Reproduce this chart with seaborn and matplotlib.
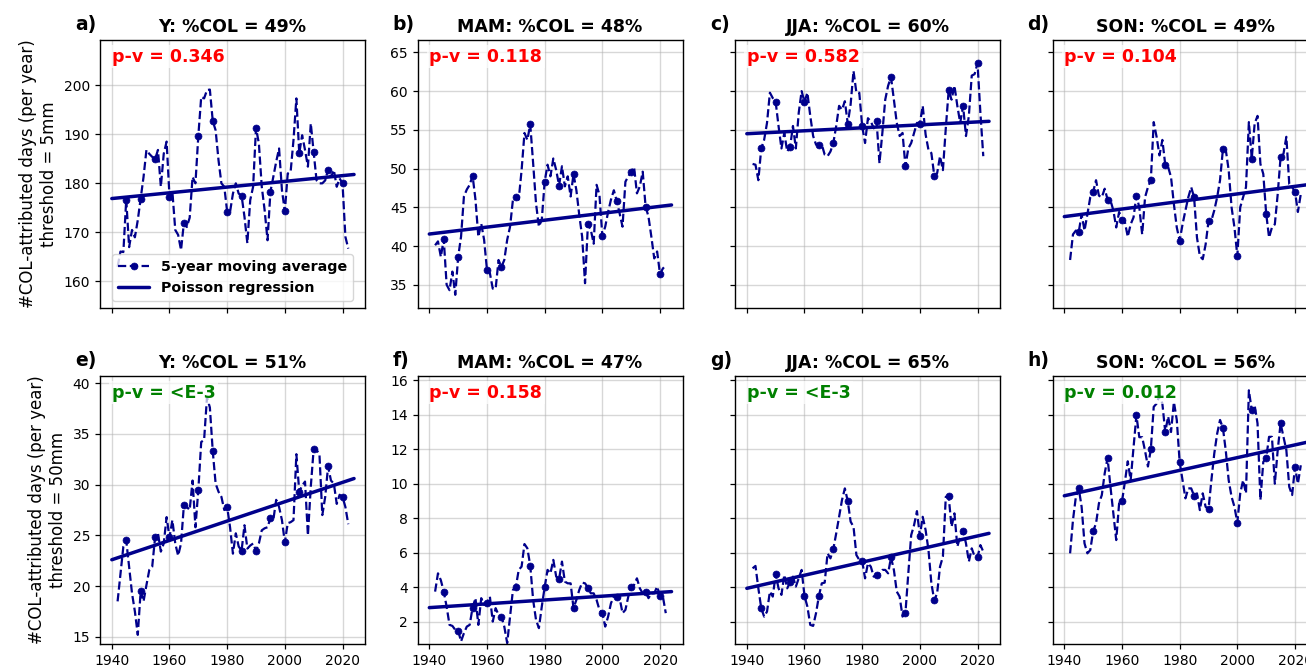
import numpy as np
import pandas as pd
import matplotlib
matplotlib.use("Agg")
import matplotlib.pyplot as plt
import seaborn as sns

# ---------------- data ----------------
years = list(range(1942, 2023))
reg_years = [1940, 2024]

titles = ["Y: %COL = 49%", "MAM: %COL = 48%", "JJA: %COL = 60%", "SON: %COL = 49%",
          "Y: %COL = 51%", "MAM: %COL = 47%", "JJA: %COL = 65%", "SON: %COL = 56%"]
letters = ["a)", "b)", "c)", "d)", "e)", "f)", "g)", "h)"]
pvalues = ["0.346", "0.118", "0.582", "0.104", "<E-3", "0.158", "<E-3", "0.012"]
significant = [False, False, False, False, True, False, True, True]
ylabels = ["#COL-attributed days (per year)\nthreshold = 5mm",
           "#COL-attributed days (per year)\nthreshold = 50mm"]

y5_year = [163, 166.1, 166, 176.7, 167, 170.5, 169, 172.5, 176.9, 181.3,
           186.8, 186, 185.4, 184.9, 186.8, 179.3, 186, 188.5, 177.3, 178.3,
           170.5, 169.5, 166.4, 172, 171.1, 173, 181.3, 180, 189.7, 197.6,
           197.3, 199, 199.1, 192.7, 190.8, 184.7, 180, 179.3, 174.2, 174.2,
           177.9, 180, 177.9, 177.5, 173.2, 167.8, 176.6, 179.3, 191.3, 188.1,
           179.3, 174.5, 168.4, 178.3, 181.3, 184.4, 187.1, 178.6, 174.3, 182,
           182.3, 188.8, 197.3, 186.1, 189.8, 186.8, 183.4, 192.2, 186.3, 180.6,
           180, 180, 180.6, 182.8, 181.3, 182.7, 179.3, 181, 180, 169.1,
           166.7]
y5_mam = [40.1, 40.6, 38.6, 40.9, 35, 34.3, 36.7, 33.7, 38.6, 41.2,
          46.4, 47.3, 47.9, 49.1, 46, 41.2, 42.9, 40.8, 36.9, 36.5,
          34.5, 34.5, 38.2, 37.3, 38.2, 40.8, 42.5, 46, 46.3, 46,
          49.8, 54.6, 53.7, 55.7, 50.7, 45.5, 42.5, 43.4, 48.3, 50.5,
          49, 51.3, 49.8, 47.8, 50.3, 47.7, 49, 46.4, 49.3, 47.2,
          44, 41.2, 35.2, 42.8, 42.1, 40.3, 47.9, 46.6, 41.3, 42.5,
          44.4, 46, 47.2, 45.8, 44.2, 42.5, 48.3, 49, 49.6, 50.2,
          46.8, 47.7, 49.6, 45.1, 43.8, 41.2, 38.4, 39.3, 36.4, 37.1,
          37.5]
y5_jja = [50.6, 50.5, 48.5, 52.6, 53.7, 55.9, 59.8, 59.1, 58.6, 55.5,
          52.6, 54.6, 52.2, 52.8, 55.5, 52.6, 57.2, 60, 58.6, 59.8,
          56.8, 54.2, 53.1, 53, 53.1, 51.8, 51.6, 52.2, 53.3, 55.5,
          58.1, 57.6, 58.7, 55.8, 58.3, 62.6, 59.8, 59.8, 55.5, 53.3,
          56.5, 56.1, 55.2, 56.1, 50.7, 54.6, 58.9, 60.7, 61.8, 58.9,
          55.9, 54.2, 54.6, 50.3, 52.6, 53.3, 54.6, 55.9, 55.8, 58.1,
          54.4, 52.4, 52, 49.1, 49.4, 51.6, 49.8, 55.2, 60.1, 58.9,
          60.7, 58.1, 55.9, 58.1, 54.2, 56.8, 62, 62.2, 63.6, 57.2,
          51.6]
y5_son = [38.2, 41.5, 42, 41.8, 44.1, 42, 44.1, 46.3, 47, 48.5,
          46.5, 46.3, 47.4, 46, 45.9, 44.6, 42.4, 44.4, 43.3, 43.1,
          41.2, 42.8, 43.7, 46.5, 45, 41.5, 46.3, 47.6, 48.5, 56,
          54.1, 51.7, 53.7, 50.5, 50.2, 48.9, 45.4, 42.4, 40.7, 42.8,
          44.6, 46.3, 47.6, 46.3, 41.1, 38.7, 38.3, 40.2, 43.2, 43.3,
          44.6, 46.3, 48.5, 52.5, 52.4, 49.8, 45, 42.4, 38.7, 45,
          46.3, 47.6, 56, 51.3, 55.8, 56.8, 50.6, 49.3, 44.2, 41.1,
          42.4, 42.8, 46.7, 51.5, 51.9, 54.1, 48, 47.6, 47, 44.4,
          46.7]
y50_year = [18.5, 21.2, 23.9, 24.5, 21.9, 19.3, 17.5, 15.2, 19.5, 18.5,
            20.1, 21.6, 21.9, 24.8, 25.2, 23.4, 24.2, 26.8, 24.8, 26.5,
            24.2, 23.0, 24.2, 28, 27.8, 27.5, 30.4, 25.8, 29.5, 34.2,
            34.4, 38.6, 37.6, 33.3, 30.1, 29.3, 28.8, 27.5, 27.8, 25.8,
            23.2, 25.2, 23.9, 23.5, 26, 23.7, 24, 24.2, 23.5, 24.2,
            25.5, 25.7, 25.8, 26.7, 26.5, 28.5, 27.8, 26.5, 24.3, 26.2,
            26.3, 26.5, 33, 29.3, 29.9, 30.3, 25, 29.8, 33.5, 33.4,
            33, 27, 28.8, 31.8, 30.4, 30.1, 28.1, 29, 28.8, 27.8,
            26.1]
y50_mam = [3.74, 4.8, 4.4, 3.74, 2.87, 1.81, 1.75, 1.52, 1.48, 0.85,
           1.33, 1.71, 1.81, 2.81, 3.36, 1.81, 3.36, 2.97, 3.07, 3.45,
           2.0, 2.78, 2.39, 2.29, 1.71, 0.75, 2.29, 3.84, 4.0, 5.0,
           5.19, 6.5, 6.25, 5.25, 3.26, 2.1, 1.62, 2.87, 4.0, 5.0,
           4.8, 5.58, 4.61, 4.47, 5.48, 4.32, 4.22, 4.22, 2.78, 3.26,
           3.84, 4.26, 4.22, 3.97, 3.64, 3.64, 3.26, 2.68, 2.49, 1.71,
           2.29, 3.07, 3.45, 3.45, 3.36, 2.49, 2.68, 3.45, 4.0, 4.13,
           4.51, 3.93, 3.64, 3.74, 3.36, 3.64, 3.64, 4.03, 3.49, 3.45,
           2.49]
y50_jja = [5.09, 5.23, 3.93, 2.78, 2.29, 2.58, 3.74, 3.45, 4.75, 3.93,
           3.55, 4.71, 3.93, 4.28, 4.61, 4.03, 4.51, 5.0, 3.49, 2.87,
           1.81, 1.75, 2.49, 3.49, 4.22, 4.26, 5.96, 5.67, 6.21, 7.12,
           8.08, 9.05, 9.73, 8.99, 7.8, 7.5, 5.86, 5.58, 5.52, 4.51,
           5.38, 5.19, 4.61, 4.71, 4.8, 5.0, 5.0, 4.8, 5.73, 5.0,
           3.74, 3.45, 2.29, 2.49, 4.8, 7.02, 7.6, 8.41, 6.98, 8.08,
           7.31, 6.15, 4.22, 3.24, 3.64, 5.19, 5.77, 9.24, 9.26, 7.5,
           8.28, 6.35, 6.93, 7.25, 6.54, 5.48, 6.25, 5.77, 5.73, 6.44,
           6.06]
y50_son = [5.96, 7.89, 9.24, 9.73, 8.66, 6.54, 5.96, 6.15, 7.25, 7.7,
           8.86, 9.34, 10.6, 11.5, 9.82, 8.28, 6.73, 8.86, 8.97, 10.1,
           11.3, 10.2, 12.1, 13.97, 12.7, 12.7, 11.9, 11, 12, 14.46,
           14.65, 15.13, 14.65, 13, 13.9, 13, 14.75, 13.7, 11.25, 10.2,
           9.15, 9.73, 9.73, 9.3, 9.44, 8.47, 9.44, 8.66, 8.51, 10.2,
           11.75, 12.9, 13.7, 13.24, 11.9, 10.2, 9.24, 8.66, 7.74, 9.44,
           10.2, 9.44, 15.42, 14.26, 14.55, 13.5, 9.05, 11.27, 11.48, 12.72,
           12.72, 10, 11.95, 13.5, 12.72, 11.95, 9.82, 9.34, 10.98, 10,
           11.07]

# Poisson regression fitted values at reg_years
reg_5_year = [176.9, 181.8]
reg_5_mam = [41.55, 45.3]
reg_5_jja = [54.5, 56.1]
reg_5_son = [43.8, 47.9]
reg_50_year = [22.6, 30.6]
reg_50_mam = [2.81, 3.74]
reg_50_jja = [3.93, 7.12]
reg_50_son = [9.3, 12.4]

series = [y5_year, y5_mam, y5_jja, y5_son, y50_year, y50_mam, y50_jja, y50_son]
regs = [reg_5_year, reg_5_mam, reg_5_jja, reg_5_son,
        reg_50_year, reg_50_mam, reg_50_jja, reg_50_son]

# ---------------- style ----------------
sns.set_style("ticks", rc={
    "axes.edgecolor": "black", "xtick.color": "black", "ytick.color": "black",
    "text.color": "black", "axes.labelcolor": "black",
    "xtick.direction": "out", "ytick.direction": "out",
})
plt.rcParams["font.family"] = ["DejaVu Sans"]

LINE_C = "#00008B"
W, H = 1306, 667
fig = plt.figure(figsize=(W / 100, H / 100), dpi=100)

col_left_px = [100, 417.5, 735, 1052.5]
row_top_px = [40, 376]
ax_w_px, ax_h_px = 265, 268

axes = []
for r in range(2):
    for c in range(4):
        rect = [col_left_px[c] / W, 1 - (row_top_px[r] + ax_h_px) / H,
                ax_w_px / W, ax_h_px / H]
        kw = {}
        if c >= 2:
            kw["sharey"] = axes[r * 4 + 1]
        ax = fig.add_axes(rect, **kw)
        axes.append(ax)

ylims = [(154.6, 209.2), (32.0, 66.6), (14.3, 40.7), (0.7, 16.25)]
yticks = [np.arange(160, 201, 10), np.arange(35, 66, 5),
          np.arange(15, 41, 5), np.arange(2, 17, 2)]

for i, ax in enumerate(axes):
    r, c = divmod(i, 4)
    df = pd.DataFrame({"year": years, "value": series[i]})
    sns.lineplot(data=df, x="year", y="value", ax=ax, color=LINE_C,
                 linestyle="--", linewidth=1.6, marker="o", markersize=5,
                 markevery=slice(3, None, 5), markeredgecolor=LINE_C,
                 markeredgewidth=0.5, label="5-year moving average", legend=False)
    rdf = pd.DataFrame({"year": reg_years, "value": regs[i]})
    sns.lineplot(data=rdf, x="year", y="value", ax=ax, color=LINE_C,
                 linewidth=2.5, label="Poisson regression", legend=False)

    ax.set_xlim(1935.9, 2027.8)
    ax.set_xticks([1940, 1960, 1980, 2000, 2020])
    ax.grid(True, color="#b0b0b0", alpha=0.5, linewidth=1.0)
    ax.set_axisbelow(True)
    for s in ax.spines.values():
        s.set_linewidth(1.0)
        s.set_color("black")
    ax.tick_params(labelsize=10, length=3.5, width=0.9)

    if c == 0:
        ax.set_ylim(*ylims[r * 2])
        ax.set_yticks(yticks[r * 2])
        ax.set_ylabel(ylabels[r], fontsize=12)
    elif c == 1:
        ax.set_ylim(*ylims[r * 2 + 1])
        ax.set_yticks(yticks[r * 2 + 1])
        ax.set_ylabel("")
    else:
        ax.set_ylabel("")
        ax.tick_params(labelleft=False)
    ax.set_xlabel("")
    if r == 0:
        ax.tick_params(labelbottom=False)

    ax.set_title(titles[i], fontsize=12.5, fontweight="bold", pad=6)
    ax.text(-0.095, 1.022, letters[i], transform=ax.transAxes, fontsize=13.5,
            fontweight="bold", ha="left", va="bottom")
    ax.text(0.045, 0.972, "p-v = " + pvalues[i], transform=ax.transAxes,
            fontsize=12.5, fontweight="bold", ha="left", va="top",
            color="green" if significant[i] else "red", zorder=5,
            bbox=dict(facecolor="white", edgecolor="none", alpha=0.7, pad=2))

leg = axes[0].legend(loc="lower center", prop={"weight": "bold", "size": 10.3},
                     handlelength=2.2)

fig.savefig("out.png", dpi=100)
